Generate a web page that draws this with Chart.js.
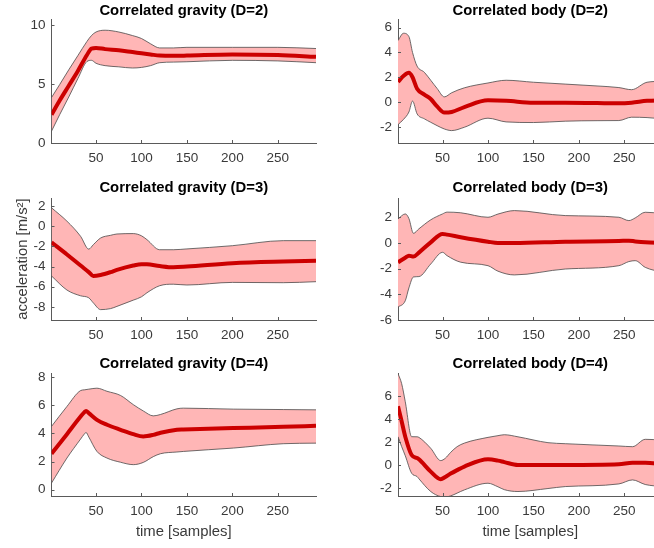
<!DOCTYPE html>
<html>
<head>
<meta charset="utf-8">
<title>Correlated gravity / body acceleration</title>
<script src="https://cdn.jsdelivr.net/npm/chart.js@4.4.0/dist/chart.umd.min.js"></script>
<style>
  html, body { margin: 0; padding: 0; background: #fff; overflow: hidden; }
  #page { position: relative; width: 654px; height: 548px; overflow: hidden; }
  canvas { position: absolute; }
</style>
</head>
<body>
<div id="page">
  <canvas id="c1" width="330" height="170" style="left:0;top:0"></canvas>
  <canvas id="c2" width="350" height="170" style="left:330px;top:0"></canvas>
  <canvas id="c3" width="330" height="175" style="left:0;top:170px"></canvas>
  <canvas id="c4" width="350" height="175" style="left:330px;top:170px"></canvas>
  <canvas id="c5" width="330" height="203" style="left:0;top:345px"></canvas>
  <canvas id="c6" width="350" height="203" style="left:330px;top:345px"></canvas>
</div>
<script>
// ---- data: mean and +/- band per panel, x in samples ----
const xTicks = [50, 100, 150, 200, 250];

const grav2X     = [1, 10, 20, 30, 40, 45, 50, 60, 75, 90, 100, 110, 120, 135, 150, 200, 250, 292];
const grav2Mean  = [2.4, 3.6, 4.85, 6.1, 7.45, 8.0, 8.05, 7.95, 7.85, 7.7, 7.6, 7.5, 7.4, 7.38, 7.4, 7.5, 7.45, 7.3];
const grav2Upper = [3.85, 4.95, 6.2, 7.4, 8.6, 9.1, 9.4, 9.55, 9.4, 9.1, 8.85, 8.4, 8.05, 8.05, 8.1, 8.1, 8.1, 8.0];
const grav2Lower = [1.0, 2.4, 3.9, 5.45, 6.9, 7.0, 6.75, 6.55, 6.45, 6.35, 6.4, 6.55, 6.8, 6.85, 6.88, 7.0, 6.95, 6.8];
const grav2Ticks = [0, 5, 10];

const body2X     = [1, 7, 13, 17, 22, 30, 37, 44, 52, 60, 74, 100, 120, 150, 185, 220, 244, 258, 275, 292];
const body2Mean  = [1.63, 2.1, 2.36, 2.0, 1.08, 0.6, 0.25, -0.35, -0.85, -0.8, -0.4, 0.14, 0.1, -0.05, -0.05, -0.08, -0.1, -0.05, 0.1, 0.15];
const body2Upper = [4.96, 5.55, 5.28, 4.0, 2.9, 2.4, 1.76, 1.1, 0.42, 0.75, 1.15, 1.54, 1.76, 1.6, 1.45, 1.3, 1.17, 1.0, 1.6, 1.68];
const body2Lower = [-1.82, -1.4, -0.8, 0.08, -0.95, -1.35, -1.63, -1.9, -2.17, -2.3, -2.03, -1.3, -1.6, -1.65, -1.54, -1.5, -1.49, -1.22, -1.25, -1.36];
const body2Ticks = [-2, 0, 2, 4, 6];

const grav3X     = [1, 18, 33, 42, 47, 55, 66, 73, 91, 100, 106, 120, 135, 150, 200, 256, 292];
const grav3Mean  = [-1.6, -2.8, -3.9, -4.55, -4.93, -4.83, -4.55, -4.33, -3.9, -3.77, -3.78, -3.95, -4.07, -4.0, -3.67, -3.5, -3.43];
const grav3Upper = [1.83, 0.5, -1.0, -2.27, -1.83, -1.17, -0.9, -0.77, -0.73, -0.95, -1.33, -2.33, -2.33, -2.25, -1.93, -1.43, -1.43];
const grav3Lower = [-4.93, -6.33, -6.9, -7.1, -7.6, -8.27, -8.17, -7.95, -7.33, -7.0, -6.6, -5.9, -5.75, -5.83, -5.57, -5.6, -5.5];
const grav3Ticks = [-8, -6, -4, -2, 0, 2];

const body3X     = [1, 9, 13, 18, 24, 37, 50, 55, 70, 100, 111, 129, 185, 244, 255, 262, 273, 292];
const body3Mean  = [-1.5, -1.15, -0.99, -1.06, -0.75, 0.05, 0.7, 0.65, 0.45, 0.1, 0.0, 0.0, 0.1, 0.15, 0.18, 0.12, 0.05, 0.0];
const body3Upper = [1.87, 2.26, 1.9, 0.75, 1.1, 1.8, 2.26, 2.4, 2.35, 2.0, 2.25, 2.52, 2.13, 2.0, 1.74, 1.95, 2.39, 2.3];
const body3Lower = [-5.0, -4.5, -3.5, -2.65, -2.62, -1.64, -0.73, -0.99, -1.5, -1.77, -2.2, -2.49, -2.03, -1.77, -1.45, -1.38, -1.9, -2.29];
const body3Ticks = [-6, -4, -2, 0, 2];

const grav4X     = [1, 18, 33, 37, 39, 42, 51, 62, 77, 91, 102, 113, 121, 139, 146, 201, 256, 292];
const grav4Mean  = [2.56, 3.95, 5.2, 5.5, 5.6, 5.45, 4.97, 4.62, 4.26, 3.95, 3.79, 3.9, 4.05, 4.26, 4.28, 4.38, 4.48, 4.54];
const grav4Upper = [4.5, 5.92, 7.05, 7.1, 7.12, 7.15, 7.22, 7.0, 6.7, 6.05, 5.6, 5.25, 5.35, 5.75, 5.8, 5.73, 5.7, 5.68];
const grav4Lower = [0.47, 2.25, 3.6, 3.95, 4.07, 3.75, 2.72, 2.25, 1.95, 1.78, 1.94, 2.35, 2.56, 2.68, 2.72, 2.96, 3.27, 3.31];
const grav4Ticks = [0, 2, 4, 6, 8];

const body4X     = [1, 5, 9, 16, 22, 24, 37, 48, 53, 59, 66, 74, 100, 111, 118, 133, 166, 185, 244, 259, 273, 292];
const body4Mean  = [5.1, 3.8, 2.46, 0.87, 0.6, 0.49, -0.58, -1.24, -1.05, -0.75, -0.45, -0.14, 0.49, 0.38, 0.25, 0.0, 0.0, 0.0, 0.06, 0.2, 0.2, 0.09];
const body4Upper = [7.95, 7.08, 5.5, 2.46, 2.45, 2.4, 1.45, 0.38, 0.58, 1.1, 1.59, 1.9, 2.4, 2.55, 2.63, 2.45, 1.94, 1.85, 1.65, 1.59, 2.23, 2.17];
const body4Lower = [2.46, 1.6, 0.8, -0.72, -1.01, -1.2, -2.31, -2.75, -2.78, -2.69, -2.45, -2.17, -1.59, -1.9, -2.15, -2.31, -2.05, -1.88, -1.65, -1.3, -1.7, -1.88];
const body4Ticks = [-2, 0, 2, 4, 6];

// ---- look ----
const FONT = "'Liberation Sans', Arial, Helvetica, sans-serif";
const axisColor = '#5a5a5a';
const labelColor = '#3a3a3a';
const meanColor = '#cc0000';
const bandColor = '#ffb6b6';
const edgeColor = '#4a4a4a';

// canvas layout for the 3x2 grid (plot box and title centre inside each canvas)
const cols = [
  { width: 330, plotLeft: 51.5, plotRight: 316 },
  { width: 350, plotLeft: 68, plotRight: 332.5 }
];
const rows = [
  { height: 170, plotTop: 19, plotBottom: 143, titleY: 11 },
  { height: 175, plotTop: 28, plotBottom: 150, titleY: 17.5 },
  { height: 203, plotTop: 28, plotBottom: 151, titleY: 19 }
];

const panels = [
  { id: 'c1', title: 'Correlated gravity (D=2)', xs: grav2X, mean: grav2Mean, upper: grav2Upper, lower: grav2Lower, yTicks: grav2Ticks, yMin: 0, yMax: 10.5, col: 0, row: 0 },
  { id: 'c2', title: 'Correlated body (D=2)', xs: body2X, mean: body2Mean, upper: body2Upper, lower: body2Lower, yTicks: body2Ticks, yMin: -3.3, yMax: 6.7, col: 1, row: 0 },
  { id: 'c3', title: 'Correlated gravity (D=3)', xs: grav3X, mean: grav3Mean, upper: grav3Upper, lower: grav3Lower, yTicks: grav3Ticks, yMin: -9.3, yMax: 2.8, col: 0, row: 1, yTitle: 'acceleration [m/s²]' },
  { id: 'c4', title: 'Correlated body (D=3)', xs: body3X, mean: body3Mean, upper: body3Upper, lower: body3Lower, yTicks: body3Ticks, yMin: -6, yMax: 3.5, col: 1, row: 1 },
  { id: 'c5', title: 'Correlated gravity (D=4)', xs: grav4X, mean: grav4Mean, upper: grav4Upper, lower: grav4Lower, yTicks: grav4Ticks, yMin: -0.45, yMax: 8.3, col: 0, row: 2, xTitle: 'time [samples]' },
  { id: 'c6', title: 'Correlated body (D=4)', xs: body4X, mean: body4Mean, upper: body4Upper, lower: body4Lower, yTicks: body4Ticks, yMin: -2.7, yMax: 8, col: 1, row: 2, xTitle: 'time [samples]' }
];

// small tick marks pointing into the plot, like the default axes look
const inwardTicks = {
  id: 'inwardTicks',
  afterDraw(chart) {
    const { ctx, chartArea: a, scales: { x, y } } = chart;
    ctx.save();
    ctx.strokeStyle = axisColor;
    ctx.lineWidth = 1;
    ctx.beginPath();
    x.ticks.forEach(t => {
      const px = Math.round(x.getPixelForValue(t.value)) + 0.5;
      ctx.moveTo(px, a.bottom);
      ctx.lineTo(px, a.bottom - 3);
    });
    y.ticks.forEach(t => {
      const py = Math.round(y.getPixelForValue(t.value)) + 0.5;
      ctx.moveTo(a.left, py);
      ctx.lineTo(a.left + 3, py);
    });
    ctx.stroke();
    ctx.restore();
  }
};

const toPoints = (xs, ys) => xs.map((x, i) => ({ x: x, y: ys[i] }));

function makePanel(p) {
  const col = cols[p.col];
  const row = rows[p.row];
  const padL = p.yTitle ? 14.1 : 0;
  const padB = p.xTitle ? 7.6 : 0;
  const yW = col.plotLeft - padL;
  const xH = row.height - padB - row.plotBottom;
  const half = 14.85 * 1.2 / 2;
  const tickFont = { family: FONT, size: 13.5 };
  const labelFont = { family: FONT, size: 14.85, lineHeight: 1.2 };

  new Chart(document.getElementById(p.id), {
    type: 'line',
    data: {
      datasets: [
        { data: toPoints(p.xs, p.mean), borderColor: meanColor, borderWidth: 4, pointRadius: 0, fill: false },
        { data: toPoints(p.xs, p.upper), borderColor: edgeColor, borderWidth: 0.8, pointRadius: 0, fill: '+1', backgroundColor: bandColor },
        { data: toPoints(p.xs, p.lower), borderColor: edgeColor, borderWidth: 0.8, pointRadius: 0, fill: false }
      ]
    },
    options: {
      responsive: false,
      animation: false,
      events: [],
      cubicInterpolationMode: 'monotone',
      layout: { padding: { left: padL, right: col.width - col.plotRight, top: 0, bottom: padB } },
      plugins: {
        legend: { display: false },
        tooltip: { enabled: false },
        filler: { drawTime: 'beforeDatasetsDraw' },
        title: {
          display: true,
          fullSize: false,
          text: p.title,
          color: '#000',
          font: { family: FONT, size: 14.85, weight: 'bold', lineHeight: 1.2 },
          padding: { top: row.titleY - half, bottom: row.plotTop - row.titleY - half }
        }
      },
      scales: {
        x: {
          type: 'linear',
          min: 1,
          max: 292,
          grid: { display: false, drawTicks: false },
          border: { display: true, color: axisColor, width: 1 },
          ticks: { color: labelColor, font: tickFont, padding: 7.4, maxRotation: 0, autoSkip: false, callback: v => String(v) },
          title: { display: !!p.xTitle, text: p.xTitle || '', color: labelColor, font: labelFont, padding: 0 },
          afterBuildTicks: s => { s.ticks = xTicks.map(v => ({ value: v })); },
          afterFit: s => { s.height = xH; }
        },
        y: {
          type: 'linear',
          min: p.yMin,
          max: p.yMax,
          grid: { display: false, drawTicks: false },
          border: { display: true, color: axisColor, width: 1 },
          ticks: { color: labelColor, font: tickFont, padding: 6, autoSkip: false, callback: v => String(v) },
          title: { display: !!p.yTitle, text: p.yTitle || '', color: labelColor, font: labelFont, padding: 0 },
          afterBuildTicks: s => { s.ticks = p.yTicks.map(v => ({ value: v })); },
          afterFit: s => { s.width = yW; }
        }
      }
    },
    plugins: [inwardTicks]
  });
}

panels.forEach(makePanel);
</script>
</body>
</html>
